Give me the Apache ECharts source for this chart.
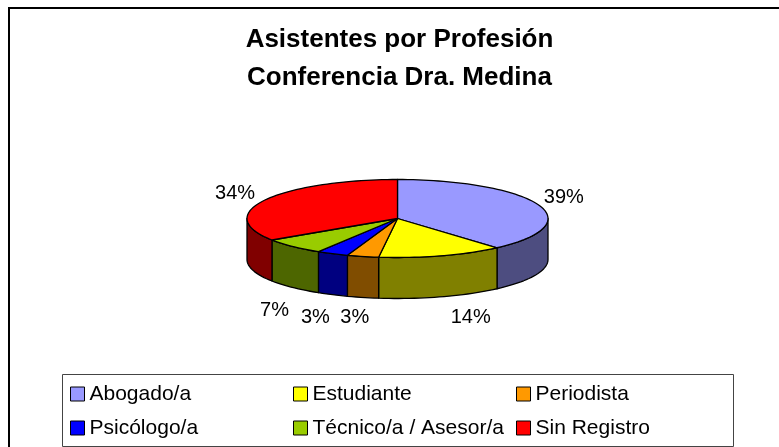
<!DOCTYPE html>
<html><head><meta charset="utf-8">
<style>html,body{margin:0;padding:0;background:#fff}#c{width:779px;height:447px}</style>
<script src="https://cdn.jsdelivr.net/npm/echarts@6/dist/echarts.min.js"></script>
</head><body><div id="c"></div>
<script>
const titleText = 'Asistentes por Profesión\nConferencia Dra. Medina';
const categories = ['Abogado/a','Estudiante','Periodista','Psicólogo/a','Técnico/a / Asesor/a','Sin Registro'];
const shares = [38.5,13.5,3.4,3.4,6.9,34.3];
const colors = ['#9999FF','#FFFF00','#FF9900','#0000FF','#99CC00','#FF0000'];
const wallColors = ['#4D4D80','#808000','#804D00','#000080','#4D6600','#800000'];
const labelNudgeX = [-3,20,-1,-4,3,-3];
const labelNudgeY = [1,-1,-2,2,6,4];

const CX=397.5, CY=218.5, RX=150.5, RY=39, DEPTH=41, LRX=181, LRY=62;
const total = shares.reduce((a,b)=>a+b,0);
const pt = (deg,dy)=>{const r=deg*Math.PI/180;return [CX+RX*Math.sin(r),CY-RY*Math.cos(r)+(dy||0)];};
function arc(a,b,dy){const n=Math.max(2,Math.ceil((b-a)/2));const out=[];for(let i=0;i<=n;i++)out.push(pt(a+(b-a)*i/n,dy));return out;}

function renderSlice(idx){
  return function(){
    const before = shares.slice(0,idx).reduce((a,b)=>a+b,0);
    const a0 = before/total*360, a1=(before+shares[idx])/total*360;
    const children=[];
    const wa=Math.max(a0,90), wb=Math.min(a1,270);
    const line={stroke:'#000',lineWidth:1.3,lineJoin:'round'};
    if(wb>wa){
      children.push({type:'polygon',shape:{points:arc(wa,wb,0).concat(arc(wa,wb,DEPTH).reverse())},style:Object.assign({fill:wallColors[idx]},line)});
    }
    children.push({type:'polygon',shape:{points:[[CX,CY]].concat(arc(a0,a1,0))},style:Object.assign({fill:colors[idx]},line)});
    const mid=(a0+a1)/2*Math.PI/180;
    const front=Math.cos(mid)<0;
    children.push({type:'text',z2:10,style:{
      text:shares[idx].toFixed(0)+'%',
      x:CX+LRX*Math.sin(mid)+labelNudgeX[idx],
      y:CY-LRY*Math.cos(mid)+(front?DEPTH:0)+labelNudgeY[idx],
      align:'center',verticalAlign:'middle',fill:'#000',
      font:'20px "Liberation Sans", Arial, sans-serif'}});
    return {type:'group',children};
  };
}

const font='"Liberation Sans", Arial, sans-serif';
function legendCol(names,left){
  return {show:true,orient:'vertical',left:left,top:379,padding:0,itemWidth:14,itemHeight:14,itemGap:4,
    icon:'rect',selectedMode:false,data:names,
    itemStyle:{borderColor:'#000',borderWidth:1},
    textStyle:{fontFamily:font,fontSize:21,color:'#000',lineHeight:24,padding:[0,0,6,0]}};
}
const chart=echarts.init(document.getElementById('c'),null,{renderer:'canvas'});
chart.setOption({
  animation:false,
  backgroundColor:'#fff',
  title:{text:titleText,left:394.5,top:16,textAlign:'center',
    textStyle:{fontFamily:font,fontSize:26,fontWeight:'bold',color:'#000',lineHeight:38}},
  legend:[legendCol([categories[0],categories[3]],70),legendCol([categories[1],categories[4]],293),legendCol([categories[2],categories[5]],516)],
  graphic:[
    {type:'rect',silent:true,z:-1,shape:{x:9,y:8,width:800,height:480},style:{fill:'#fff',stroke:'#000',lineWidth:2}},
    {type:'rect',silent:true,z:-1,shape:{x:62.5,y:374.5,width:671,height:72},style:{fill:'#fff',stroke:'#444',lineWidth:1}}
  ],
  series:categories.map((name,i)=>({
    type:'custom',name:name,coordinateSystem:'none',silent:true,
    itemStyle:{color:colors[i]},
    data:[{name:name,value:shares[i]}],
    renderItem:renderSlice(i)
  }))
});
</script></body></html>
